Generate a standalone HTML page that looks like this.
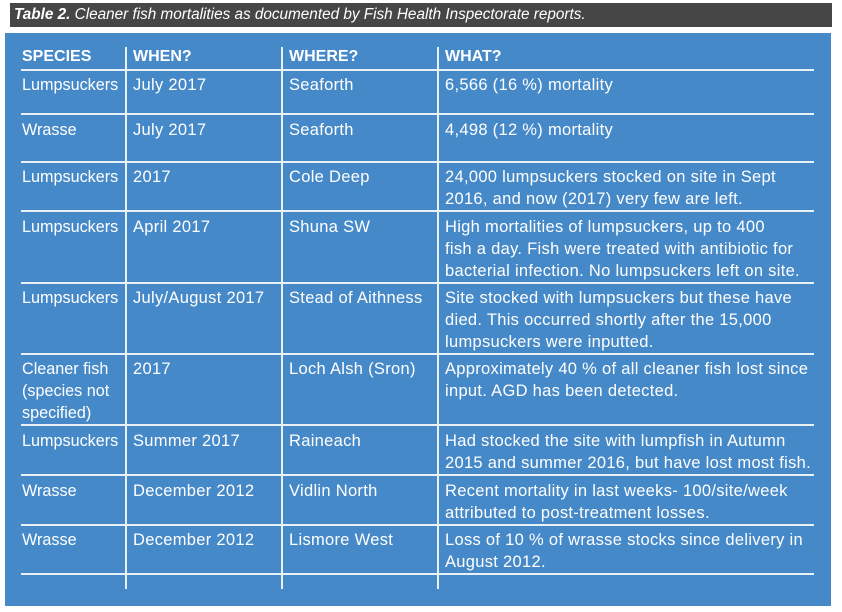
<!DOCTYPE html><html><head><style>
body{margin:0;width:842px;height:612px;background:#fff;position:relative;overflow:hidden;font-family:"Liberation Sans",sans-serif;}
.t{position:absolute;left:10px;top:3px;width:822px;height:24px;background:#464646;color:#fff;font-style:italic;font-size:15.3px;line-height:24px;padding-left:4px;box-sizing:border-box;}
.b{position:absolute;left:5px;top:33px;width:826px;height:573px;background:#4689c8;}
.h{position:absolute;left:21px;width:793px;height:2px;background:#e8f0f8;}
.v{position:absolute;width:2px;background:#e8f0f8;top:47px;height:542px;}
.c{position:absolute;color:#fff;font-size:16.5px;letter-spacing:0.3px;line-height:22px;white-space:nowrap;}
.f{letter-spacing:0;font-size:16.2px;}
.hd{font-weight:bold;font-size:16px;letter-spacing:0;}
</style></head><body>
<div class="t"><b>Table 2.</b> Cleaner fish mortalities as documented by Fish Health Inspectorate reports.</div>
<div class="b"></div>
<div class="h" style="top:69px"></div><div class="h" style="top:113px"></div><div class="h" style="top:161px"></div><div class="h" style="top:210px"></div><div class="h" style="top:282px"></div><div class="h" style="top:353px"></div><div class="h" style="top:424px"></div><div class="h" style="top:474px"></div><div class="h" style="top:524px"></div><div class="h" style="top:573px"></div>
<div class="v" style="left:125px"></div><div class="v" style="left:281px"></div><div class="v" style="left:437px"></div>
<div class="c hd" style="left:22px;top:46px">SPECIES</div><div class="c hd" style="left:133px;top:46px">WHEN?</div><div class="c hd" style="left:289px;top:46px">WHERE?</div><div class="c hd" style="left:445px;top:46px">WHAT?</div>
<div class="c f" style="left:22px;top:74px">Lumpsuckers</div><div class="c" style="left:133px;top:74px">July 2017</div><div class="c" style="left:289px;top:74px">Seaforth</div><div class="c" style="left:445px;top:74px">6,566 (16 %) mortality</div>
<div class="c f" style="left:22px;top:119px">Wrasse</div><div class="c" style="left:133px;top:119px">July 2017</div><div class="c" style="left:289px;top:119px">Seaforth</div><div class="c" style="left:445px;top:119px">4,498 (12 %) mortality</div>
<div class="c f" style="left:22px;top:166px">Lumpsuckers</div><div class="c" style="left:133px;top:166px">2017</div><div class="c" style="left:289px;top:166px">Cole Deep</div><div class="c" style="left:445px;top:166px">24,000 lumpsuckers stocked on site in Sept<br>2016, and now (2017) very few are left.</div>
<div class="c f" style="left:22px;top:216px">Lumpsuckers</div><div class="c" style="left:133px;top:216px">April 2017</div><div class="c" style="left:289px;top:216px">Shuna SW</div><div class="c" style="left:445px;top:216px">High mortalities of lumpsuckers, up to 400<br>fish a day. Fish were treated with antibiotic for<br>bacterial infection. No lumpsuckers left on site.</div>
<div class="c f" style="left:22px;top:287px">Lumpsuckers</div><div class="c" style="left:133px;top:287px">July/August 2017</div><div class="c" style="left:289px;top:287px">Stead of Aithness</div><div class="c" style="left:445px;top:287px">Site stocked with lumpsuckers but these have<br>died. This occurred shortly after the 15,000<br>lumpsuckers were inputted.</div>
<div class="c f" style="left:22px;top:358px">Cleaner fish<br>(species not<br>specified)</div><div class="c" style="left:133px;top:358px">2017</div><div class="c" style="left:289px;top:358px">Loch Alsh (Sron)</div><div class="c" style="left:445px;top:358px">Approximately 40 % of all cleaner fish lost since<br>input. AGD has been detected.</div>
<div class="c f" style="left:22px;top:430px">Lumpsuckers</div><div class="c" style="left:133px;top:430px">Summer 2017</div><div class="c" style="left:289px;top:430px">Raineach</div><div class="c" style="left:445px;top:430px">Had stocked the site with lumpfish in Autumn<br>2015 and summer 2016, but have lost most fish.</div>
<div class="c f" style="left:22px;top:480px">Wrasse</div><div class="c" style="left:133px;top:480px">December 2012</div><div class="c" style="left:289px;top:480px">Vidlin North</div><div class="c" style="left:445px;top:480px">Recent mortality in last weeks- 100/site/week<br>attributed to post-treatment losses.</div>
<div class="c f" style="left:22px;top:529px">Wrasse</div><div class="c" style="left:133px;top:529px">December 2012</div><div class="c" style="left:289px;top:529px">Lismore West</div><div class="c" style="left:445px;top:529px">Loss of 10 % of wrasse stocks since delivery in<br>August 2012.</div>
</body></html>
